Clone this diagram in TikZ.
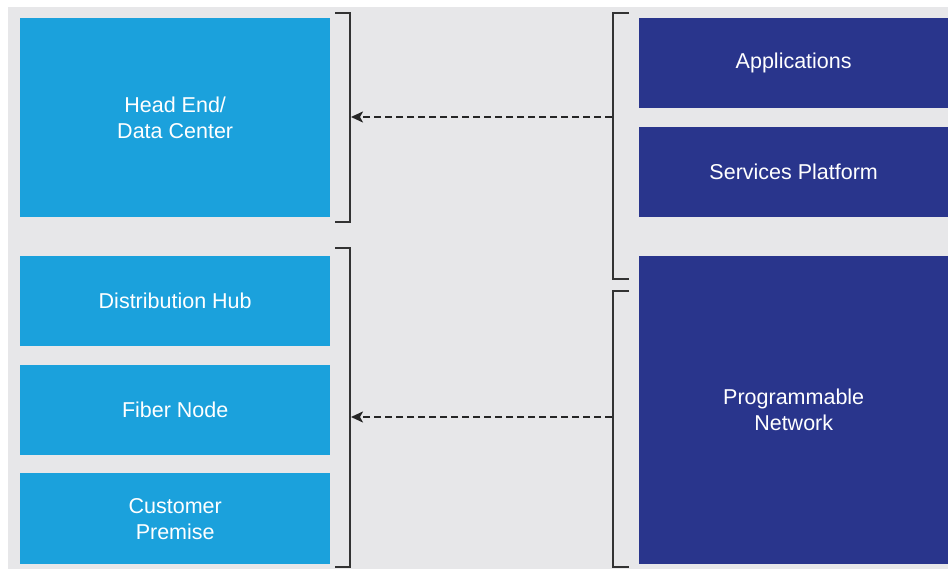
\documentclass[tikz,border=0pt]{standalone}
\usepackage{fontspec}
\setmainfont{Liberation Sans}
\usetikzlibrary{positioning,arrows.meta}

\definecolor{lightblue}{HTML}{1BA1DC}
\definecolor{darkblue}{HTML}{29358C}
\definecolor{bggray}{HTML}{E7E7E9}
\definecolor{brackgray}{HTML}{333333}

\begin{document}
\begin{tikzpicture}[x=1pt, y=-1pt,
    layerbox/.style={draw=none, fill=lightblue, text=white, align=center,
        anchor=north west, minimum width=310pt, inner sep=0pt,
        font=\fontsize{21.5}{26}\selectfont},
    stackbox/.style={layerbox, fill=darkblue, minimum width=309pt},
    bracketline/.style={draw=brackgray, line width=1.5pt},
    maparrow/.style={-{Stealth[length=12pt, width=11pt, inset=3pt]}, draw=black!85, line width=2pt, dash pattern=on 7pt off 4pt}
    ]
        %Background
        \useasboundingbox (0,0) rectangle (948,569);
        \fill[white] (0,0) rectangle (948,569);
        \fill[bggray] (8,7) rectangle (948,569);

        %Nodes
        \node[layerbox, minimum height=199pt]
            (head)  at (20,18)      {Head End/\\Data Center};
        \node[layerbox, minimum height=90pt]
            (hub)   at (20,256)     {Distribution Hub};
        \node[layerbox, minimum height=90pt]
            (fiber) at (20,365)     {Fiber Node};
        \node[layerbox, minimum height=91pt]
            (cust)  at (20,473)     {Customer\\Premise};
        \node[stackbox, minimum height=90pt]
            (apps)  at (639,18)     {Applications};
        \node[stackbox, minimum height=90pt]
            (svc)   at (639,127)    {Services Platform};
        \node[stackbox, minimum height=308pt]
            (prog)  at (639,256)    {Programmable\\Network};

        %Brackets
        \draw[bracketline] (335,13) -- (350,13) -- (350,222) -- (335,222);
        \draw[bracketline] (335,248) -- (350,248) -- (350,567) -- (335,567);
        \draw[bracketline] (629,13) -- (613,13) -- (613,279) -- (629,279);
        \draw[bracketline] (629,291) -- (613,291) -- (613,567) -- (629,567);
        \coordinate (lbrtop) at (351,117);
        \coordinate (lbrbot) at (351,417);
        \coordinate (rbrtop) at (612,117);
        \coordinate (rbrbot) at (612,417);

        %Lines
        \draw[maparrow] (rbrtop) -- (lbrtop);
        \draw[maparrow] (rbrbot) -- (lbrbot);
    \end{tikzpicture}
\end{document}
